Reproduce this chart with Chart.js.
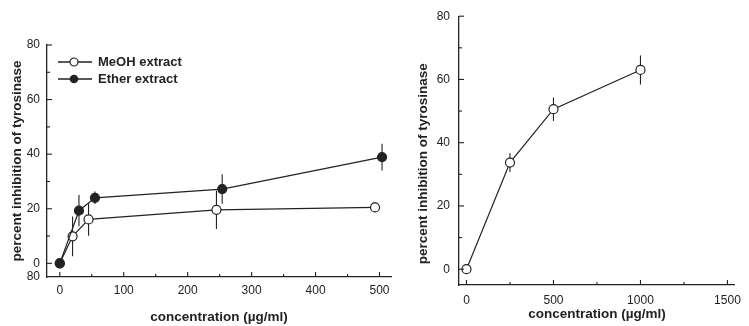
<!DOCTYPE html>
<html>
<head>
<meta charset="utf-8">
<script src="https://cdn.jsdelivr.net/npm/chart.js@4.4.0/dist/chart.umd.min.js"></script>
<style>
    body { margin: 0; background: #fff; width: 749px; height: 326px; overflow: hidden; position: relative; font-family: "Liberation Sans", Arial, sans-serif; }
    #left { position: absolute; left: 0; top: 0; width: 405px; height: 326px; }
    #right { position: absolute; left: 405px; top: 0; width: 344px; height: 326px; }
    .legend { position: absolute; left: 57px; top: 53px; font-weight: bold; font-size: 13px; color: #222; }
    .legend div { display: flex; align-items: center; height: 17px; }
    .legend svg { margin-right: 5px; }
</style>
</head>
<body>
<div id="left"><canvas id="leftChart"></canvas></div>
<div id="right"><canvas id="rightChart"></canvas></div>
<div class="legend">
    <div><svg width="36" height="12"><line x1="1" y1="6" x2="35" y2="6" stroke="#222" stroke-width="1.3"/><circle cx="17" cy="6" r="4" fill="#fff" stroke="#222" stroke-width="1.2"/></svg>MeOH extract</div>
    <div><svg width="36" height="12"><line x1="1" y1="6" x2="35" y2="6" stroke="#222" stroke-width="1.3"/><circle cx="17" cy="6" r="4.3" fill="#222"/></svg>Ether extract</div>
</div>
<script>
    const ink = "#222";
    const tickFont = { family: "'Liberation Sans Narrow', 'Liberation Sans', Arial", size: 12 };
    const titleFont = { family: "'Liberation Sans', Arial", size: 13.5, weight: "bold" };

    // left panel
    const meohConc = [0, 20, 45, 245, 493];
    const meohInhib = [0, 9.9, 16.1, 19.6, 20.5];
    const meohErr = [0, 7.3, 6, 7, 1.8];
    const etherConc = [0, 30, 55, 254, 504];
    const etherInhib = [0, 19.3, 24.0, 27.2, 38.9];
    const etherErr = [0, 5.7, 2.3, 5.4, 4.9];
    const leftXTicks = [0, 100, 200, 300, 400, 500];
    const leftXMinor = [50, 150, 250, 350, 450];
    const leftYTicks = [-5, 0, 20, 40, 60, 80];
    const leftYMinor = [10, 30, 50, 70];

    // right panel
    const rightConc = [0, 250, 500, 1000];
    const rightInhib = [0, 33.7, 50.6, 63.0];
    const rightErr = [0, 3, 3.7, 4.6];
    const rightXTicks = [0, 500, 1000, 1500];
    const rightXMinor = [250, 750, 1250];
    const rightYTicks = [0, 20, 40, 60, 80];
    const rightYMinor = [10, 30, 50, 70];

    const yTitle = "percent inhibition of tyrosinase";
    const toPoints = (xs, ys) => xs.map((v, i) => ({ x: v, y: ys[i] }));

    const errorBars = {
        id: "errorBars",
        beforeDatasetsDraw(chart) {
            const { ctx, scales: { x, y } } = chart;
            ctx.save();
            ctx.strokeStyle = ink;
            ctx.lineWidth = 1.1;
            chart.data.datasets.forEach((ds) => {
                (ds.err || []).forEach((e, i) => {
                    if (!e) return;
                    const p = ds.data[i];
                    const px = x.getPixelForValue(p.x);
                    ctx.beginPath();
                    ctx.moveTo(px, y.getPixelForValue(p.y - e));
                    ctx.lineTo(px, y.getPixelForValue(p.y + e));
                    ctx.stroke();
                });
            });
            ctx.restore();
        },
    };

    // ticks pointing into the plot, major and minor
    const innerTicks = {
        id: "innerTicks",
        afterDraw(chart, args, opts) {
            const { ctx, scales: { x, y } } = chart;
            ctx.save();
            ctx.strokeStyle = ink;
            ctx.lineWidth = 1.1;
            const mark = (scale, values, len) => {
                values.forEach((v) => {
                    const p = scale.getPixelForValue(v);
                    ctx.beginPath();
                    if (scale.axis === "x") {
                        ctx.moveTo(p, y.bottom);
                        ctx.lineTo(p, y.bottom - len);
                    } else {
                        ctx.moveTo(x.left, p);
                        ctx.lineTo(x.left + len, p);
                    }
                    ctx.stroke();
                });
            };
            mark(x, opts.xMajor, 5);
            mark(x, opts.xMinor, 3);
            mark(y, opts.yMajor, 5);
            mark(y, opts.yMinor, 3);
            ctx.restore();
        },
    };

    const lineDataset = (label, xs, ys, errs, filled) => ({
        label: label,
        data: toPoints(xs, ys),
        err: errs,
        borderColor: ink,
        borderWidth: 1.2,
        pointRadius: 4.5,
        pointBorderWidth: 1.2,
        pointBorderColor: ink,
        pointBackgroundColor: filled ? ink : "#fff",
        tension: 0,
        clip: false,
    });

    const makeOptions = (cfg) => ({
        responsive: true,
        maintainAspectRatio: false,
        animation: false,
        layout: { padding: cfg.padding },
        plugins: {
            legend: { display: false },
            tooltip: { enabled: false },
            innerTicks: cfg.inner,
        },
        scales: {
            x: {
                type: "linear",
                min: cfg.xMin,
                max: cfg.xMax,
                afterBuildTicks: (s) => { s.ticks = cfg.xTicks.map((v) => ({ value: v })); },
                afterFit: (s) => { s.height = cfg.xHeight; },
                grid: { display: true, drawOnChartArea: false, drawTicks: false },
                border: { display: true, color: ink, width: 1.3 },
                ticks: { color: ink, font: tickFont, padding: cfg.xTickPad, maxRotation: 0, callback: (v) => String(v) },
                title: { display: true, text: "concentration (µg/ml)", color: ink, font: titleFont, padding: { top: 0, bottom: cfg.xTitlePad } },
            },
            y: {
                type: "linear",
                min: cfg.yMin,
                max: 80,
                afterBuildTicks: (s) => { s.ticks = cfg.yTicks.map((v) => ({ value: v })); },
                afterFit: (s) => { s.width = cfg.yWidth; },
                grid: { display: true, drawOnChartArea: false, drawTicks: false },
                border: { display: true, color: ink, width: 1.3 },
                ticks: {
                    color: ink,
                    font: tickFont,
                    padding: cfg.yTickPad,
                    callback: (v) => (v === -5 ? "80" : String(v)),
                },
                title: { display: true, text: cfg.yTitleText, color: ink, font: titleFont, padding: { top: cfg.yTitlePad, bottom: 0 } },
            },
        },
    });

    new Chart(document.getElementById("leftChart").getContext("2d"), {
        type: "line",
        data: {
            datasets: [
                lineDataset("Ether extract", etherConc, etherInhib, etherErr, true),
                lineDataset("MeOH extract", meohConc, meohInhib, meohErr, false),
            ],
        },
        options: makeOptions({
            padding: { left: 0, right: 14, top: 45, bottom: 0 },
            xMin: -20, xMax: 518, xTicks: leftXTicks, xHeight: 49, xTickPad: 6, xTitlePad: 1,
            yMin: -5, yTicks: leftYTicks, yWidth: 47, yTickPad: 7, yTitlePad: 9, yTitleText: yTitle,
            inner: { xMajor: leftXTicks, xMinor: leftXMinor, yMajor: leftYTicks.filter((v) => v >= 0), yMinor: leftYMinor },
        }),
        plugins: [errorBars, innerTicks],
    });

    new Chart(document.getElementById("rightChart").getContext("2d"), {
        type: "line",
        data: {
            datasets: [lineDataset("extract", rightConc, rightInhib, rightErr, false)],
        },
        options: makeOptions({
            padding: { left: 0, right: 7, top: 14, bottom: 0 },
            xMin: -43, xMax: 1543, xTicks: rightXTicks, xHeight: 41, xTickPad: 8, xTitlePad: 4,
            yMin: -5, yTicks: rightYTicks, yWidth: 54, yTickPad: 9, yTitlePad: 10,
            yTitleText: yTitle + "\u00a0".repeat(7),
            inner: { xMajor: rightXTicks, xMinor: rightXMinor, yMajor: rightYTicks, yMinor: rightYMinor },
        }),
        plugins: [errorBars, innerTicks],
    });
</script>
</body>
</html>
